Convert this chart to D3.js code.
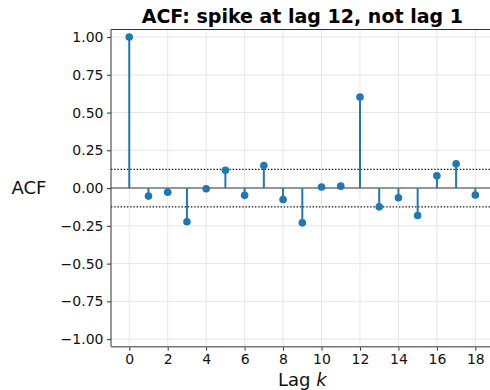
<!DOCTYPE html>
<html>
<head>
<meta charset="utf-8">
<script src="https://cdn.jsdelivr.net/npm/d3@7"></script>
<style>
  body { margin: 0; background: #fff; }
  svg { display: block; font-family: "DejaVu Sans", sans-serif; }
</style>
</head>
<body>
<svg id="chart" width="490" height="390"></svg>
<script>
// ACF values by lag
const lags = [0, 1, 2, 3, 4, 5, 6, 7, 8, 9, 10, 11, 12, 13, 14, 15, 16, 17, 18];
const acf = [1.0, -0.053, -0.027, -0.223, -0.004, 0.118, -0.048, 0.15, -0.075, -0.23,
             0.007, 0.013, 0.603, -0.124, -0.064, -0.181, 0.081, 0.161, -0.046];
const confBand = 0.124;
const xTicks = [0, 2, 4, 6, 8, 10, 12, 14, 16, 18];
const yTicks = [-1.0, -0.75, -0.5, -0.25, 0, 0.25, 0.5, 0.75, 1.0];

const svg = d3.select("#chart");
const plot = {left: 111, right: 493.6, top: 29.5, bottom: 346.7};
const blue = "#1f77b4";

const x = d3.scaleLinear().domain([-0.95, 18.95]).range([plot.left, plot.right]);
const y = d3.scaleLinear().domain([-1.05, 1.05]).range([plot.bottom, plot.top]);

// grid
svg.append("g")
    .selectAll("line")
    .data(xTicks)
    .join("line")
    .attr("x1", d => x(d)).attr("x2", d => x(d))
    .attr("y1", plot.top).attr("y2", plot.bottom)
    .attr("stroke", "#e6e6e6")
    .attr("stroke-width", 1);

svg.append("g")
    .selectAll("line")
    .data(yTicks)
    .join("line")
    .attr("x1", plot.left).attr("x2", plot.right)
    .attr("y1", d => y(d)).attr("y2", d => y(d))
    .attr("stroke", "#e6e6e6")
    .attr("stroke-width", 1);

// zero line and confidence band
svg.append("line")
    .attr("x1", plot.left).attr("x2", plot.right)
    .attr("y1", y(0)).attr("y2", y(0))
    .attr("stroke", "#777")
    .attr("stroke-width", 1.5);

[confBand, -confBand].forEach(v => {
    svg.append("line")
        .attr("x1", plot.left).attr("x2", plot.right)
        .attr("y1", y(v)).attr("y2", y(v))
        .attr("stroke", "#111")
        .attr("stroke-width", 1.4)
        .attr("stroke-dasharray", "1.4,1.8");
});

// stems + markers
const pts = lags.map((k, i) => ({k, v: acf[i]}));
svg.append("g")
    .selectAll("line")
    .data(pts)
    .join("line")
    .attr("x1", d => x(d.k)).attr("x2", d => x(d.k))
    .attr("y1", y(0)).attr("y2", d => y(d.v))
    .attr("stroke", blue)
    .attr("stroke-width", 2);

svg.append("g")
    .selectAll("circle")
    .data(pts)
    .join("circle")
    .attr("cx", d => x(d.k))
    .attr("cy", d => y(d.v))
    .attr("r", 3.8)
    .attr("fill", blue);

// axes
const xAxis = svg.append("g")
    .attr("transform", `translate(0,${plot.bottom})`)
    .call(d3.axisBottom(x).tickValues(xTicks).tickSize(4).tickPadding(3).tickFormat(d3.format("d")));

const yAxis = svg.append("g")
    .attr("transform", `translate(${plot.left},0)`)
    .call(d3.axisLeft(y).tickValues(yTicks).tickSize(4).tickPadding(3.5)
        .tickFormat(d => d3.format(".2f")(d).replace("-", "\u2212")));

[xAxis, yAxis].forEach(a => {
    a.select(".domain").remove();
    a.selectAll(".tick line").attr("stroke", "#333");
    a.selectAll("text")
        .attr("fill", "#111")
        .attr("font-family", "DejaVu Sans")
        .attr("font-size", 14);
});

// frame
svg.append("line").attr("x1", plot.left).attr("x2", plot.left).attr("y1", plot.top).attr("y2", plot.bottom)
    .attr("stroke", "#333").attr("stroke-width", 1);
svg.append("line").attr("x1", plot.left).attr("x2", plot.right).attr("y1", plot.top).attr("y2", plot.top)
    .attr("stroke", "#333").attr("stroke-width", 1);
svg.append("line").attr("x1", plot.left).attr("x2", plot.right).attr("y1", plot.bottom).attr("y2", plot.bottom)
    .attr("stroke", "#777").attr("stroke-width", 1.5);

// labels
svg.append("text")
    .attr("x", (plot.left + plot.right) / 2)
    .attr("y", 23)
    .attr("text-anchor", "middle")
    .style("font-size", "19px")
    .style("font-weight", "bold")
    .attr("fill", "#000")
    .text("ACF: spike at lag 12, not lag 1");

svg.append("text")
    .attr("x", 29)
    .attr("y", y(0) + 6)
    .attr("text-anchor", "middle")
    .style("font-size", "18px")
    .attr("fill", "#111")
    .text("ACF");

const xl = svg.append("text")
    .attr("x", (plot.left + plot.right) / 2)
    .attr("y", 386)
    .attr("text-anchor", "middle")
    .style("font-size", "18px")
    .attr("fill", "#111");
xl.append("tspan").text("Lag ");
xl.append("tspan").style("font-style", "italic").text("k");
</script>
</body>
</html>
